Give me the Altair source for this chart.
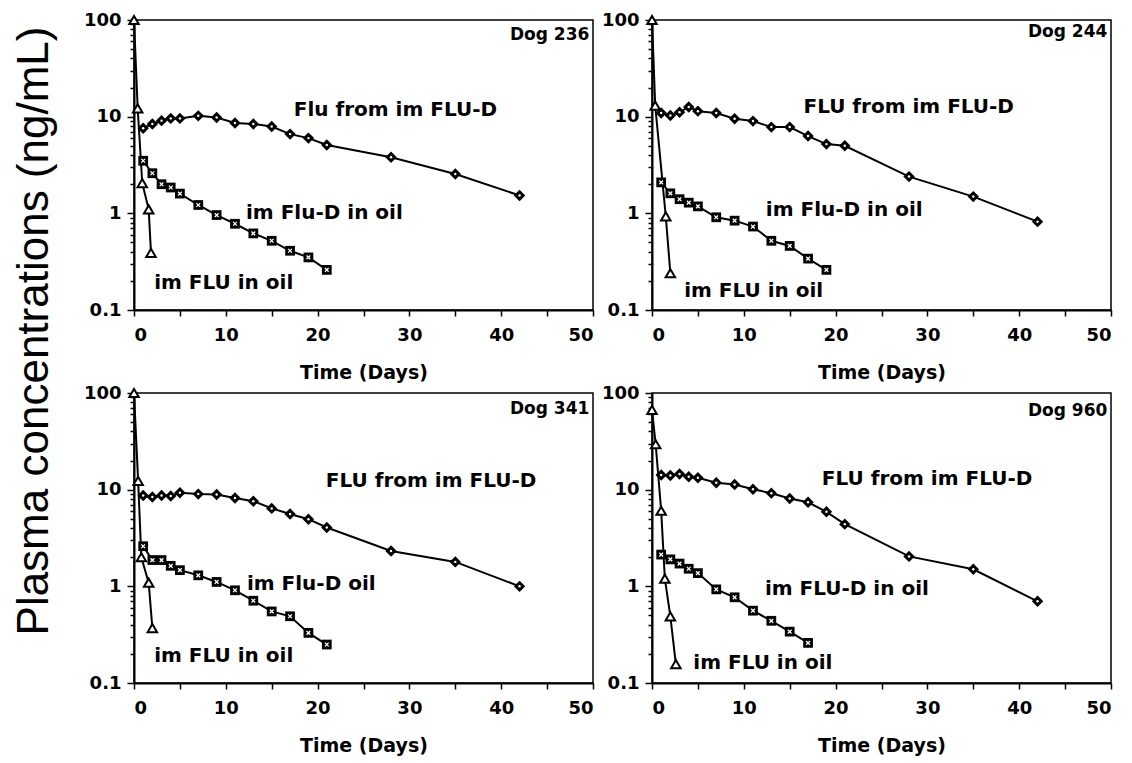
import altair as alt
import pandas as pd

# ---------------- data ----------------
DOGS = ["Dog 236", "Dog 244", "Dog 341", "Dog 960"]

# FLU from im FLU-D (diamonds)
diam_days = {
    "Dog 236": [1, 2, 3, 4, 5, 7, 9, 11, 13, 15, 17, 19, 21, 28, 35, 42],
    "Dog 244": [1, 2, 3, 4, 5, 7, 9, 11, 13, 15, 17, 19, 21, 28, 35, 42],
    "Dog 341": [1, 2, 3, 4, 5, 7, 9, 11, 13, 15, 17, 19, 21, 28, 35, 42],
    "Dog 960": [1, 2, 3, 4, 5, 7, 9, 11, 13, 15, 17, 19, 21, 28, 35, 42],
}
diam_vals = {
    "Dog 236": [7.6, 8.4, 9.1, 9.6, 9.6, 10.2, 9.8, 8.6, 8.4, 7.9, 6.6, 6.0, 5.1, 3.8, 2.55, 1.53],
    "Dog 244": [10.9, 10.3, 11.1, 12.6, 11.4, 10.9, 9.5, 9.0, 7.8, 7.8, 6.3, 5.2, 5.0, 2.4, 1.49, 0.82],
    "Dog 341": [8.7, 8.4, 8.7, 8.6, 9.3, 9.0, 8.9, 8.2, 7.6, 6.4, 5.6, 4.95, 4.06, 2.32, 1.79, 1.0],
    "Dog 960": [14.2, 14.0, 14.5, 13.6, 13.3, 11.8, 11.3, 10.1, 9.2, 8.1, 7.4, 5.9, 4.4, 2.04, 1.5, 0.70],
}
# im FLU-D in oil (squares)
sq_days = {
    "Dog 236": [1, 2, 3, 4, 5, 7, 9, 11, 13, 15, 17, 19, 21],
    "Dog 244": [1, 2, 3, 4, 5, 7, 9, 11, 13, 15, 17, 19],
    "Dog 341": [1, 2, 3, 4, 5, 7, 9, 11, 13, 15, 17, 19, 21],
    "Dog 960": [1, 2, 3, 4, 5, 7, 9, 11, 13, 15, 17],
}
sq_vals = {
    "Dog 236": [3.5, 2.6, 2.0, 1.85, 1.6, 1.22, 0.96, 0.78, 0.62, 0.52, 0.41, 0.35, 0.26],
    "Dog 244": [2.09, 1.61, 1.40, 1.29, 1.18, 0.91, 0.84, 0.73, 0.52, 0.46, 0.34, 0.26],
    "Dog 341": [2.6, 1.87, 1.87, 1.63, 1.47, 1.30, 1.11, 0.91, 0.71, 0.55, 0.49, 0.33, 0.25],
    "Dog 960": [2.13, 1.90, 1.72, 1.52, 1.37, 0.93, 0.77, 0.56, 0.44, 0.34, 0.26],
}
# im FLU in oil (triangles)
tri_days = {
    "Dog 236": [0, 0.4, 0.9, 1.6, 1.85],
    "Dog 244": [0, 0.35, 1.5, 2.0],
    "Dog 341": [0, 0.45, 0.8, 1.6, 2.0],
    "Dog 960": [0, 0.4, 1.0, 1.4, 2.0, 2.6],
}
tri_vals = {
    "Dog 236": [100, 12.2, 2.05, 1.1, 0.39],
    "Dog 244": [100, 13.0, 0.93, 0.24],
    "Dog 341": [100, 12.3, 2.0, 1.09, 0.37],
    "Dog 960": [67, 29.5, 6.05, 1.2, 0.49, 0.157],
}

# annotation texts and their anchor in data units (day, concentration)
series_labels = {
    "Dog 236": ["Flu from im FLU-D", "im Flu-D in oil", "im FLU in oil"],
    "Dog 244": ["FLU from im FLU-D", "im Flu-D in oil", "im FLU in oil"],
    "Dog 341": ["FLU from im FLU-D", "im Flu-D oil", "im FLU in oil"],
    "Dog 960": ["FLU from im FLU-D", "im FLU-D in oil", "im FLU in oil"],
}
label_days = {
    "Dog 236": [17.4, 12.2, 2.2],
    "Dog 244": [16.5, 12.4, 3.5],
    "Dog 341": [20.9, 12.3, 2.2],
    "Dog 960": [18.5, 12.3, 4.5],
}
label_vals = {
    "Dog 236": [11.7, 1.0, 0.19],
    "Dog 244": [12.5, 1.07, 0.158],
    "Dog 341": [12.3, 1.06, 0.19],
    "Dog 960": [12.8, 0.94, 0.161],
}
dog_label_pos = {"Dog 236": (49.6, 70), "Dog 244": (49.6, 75), "Dog 341": (49.6, 68), "Dog 960": (49.6, 65)}

y_ticks = [m * 10.0 ** e for e in (-1, 0, 1) for m in range(1, 10)] + [100.0]
x_ticks = list(range(0, 51, 5))

# ---------------- tables ----------------
rows = []
for dog in DOGS:
    for s, dd, vv in (("diam", diam_days, diam_vals), ("sq", sq_days, sq_vals), ("tri", tri_days, tri_vals)):
        for d, v in zip(dd[dog], vv[dog]):
            rows.append({"dog": dog, "series": s, "day": d, "conc": v})
df = pd.DataFrame(rows)

lab_rows = []
for dog in DOGS:
    for t, d, v in zip(series_labels[dog], label_days[dog], label_vals[dog]):
        lab_rows.append({"dog": dog, "text": t, "day": d, "conc": v})
labs = pd.DataFrame(lab_rows)
dogs_df = pd.DataFrame([{"dog": k, "text": k, "day": p[0], "conc": p[1]} for k, p in dog_label_pos.items()])

FONT = "DejaVu Sans"
is_decade = "abs(log(datum.value)/LN10 - round(log(datum.value)/LN10)) < 0.001"


def panel(dog):
    x = alt.X(
        "day:Q",
        scale=alt.Scale(domain=[0, 50], nice=False),
        axis=alt.Axis(values=x_ticks, labelExpr="datum.value % 10 == 0 ? datum.label : ''",
                      title="Time (Days)", tickSize=6, labelPadding=10, titlePadding=19),
    )
    y = alt.Y(
        "conc:Q",
        scale=alt.Scale(type="log", domain=[0.1, 100], nice=False),
        axis=alt.Axis(values=y_ticks, format="~g",
                      labelExpr=is_decade + " ? format(datum.value, '~g') : ''",
                      tickSize={"condition": {"test": is_decade, "value": 7}, "value": 4},
                      labelPadding=6, title=None),
    )
    d = df[df.dog == dog]
    base = alt.Chart(d).encode(x=x, y=y)
    lines = base.mark_line(color="black", strokeWidth=2).encode(detail="series:N")
    diam = base.transform_filter(alt.datum.series == "diam").mark_point(
        shape="diamond", filled=True, color="black", size=130, opacity=1)
    diam_dot = base.transform_filter(alt.datum.series == "diam").mark_point(
        shape="circle", filled=True, color="white", size=6, opacity=1)
    sq = base.transform_filter(alt.datum.series == "sq").mark_point(
        shape="square", filled=True, color="black", size=95, opacity=1)
    sq_x = base.transform_filter(alt.datum.series == "sq").mark_point(
        shape="M-1,-1L1,1M-1,1L1,-1", filled=False, color="white", size=14, strokeWidth=1.3, opacity=1)
    tri = base.transform_filter(alt.datum.series == "tri").mark_point(
        shape="triangle-up", filled=True, fill="white", stroke="black", strokeWidth=2, size=90, opacity=1)

    txt = alt.Chart(labs[labs.dog == dog]).mark_text(
        align="left", baseline="middle", font=FONT, fontWeight="bold", fontSize=20, color="black"
    ).encode(x="day:Q", y="conc:Q", text="text:N")
    dtxt = alt.Chart(dogs_df[dogs_df.dog == dog]).mark_text(
        align="right", baseline="middle", font=FONT, fontWeight="bold", fontSize=17, color="black"
    ).encode(x="day:Q", y="conc:Q", text="text:N")

    return alt.layer(lines, diam, diam_dot, sq, sq_x, tri, txt, dtxt).properties(width=459, height=290)


top = alt.hconcat(panel("Dog 236"), panel("Dog 244"), spacing=5)
bottom = alt.hconcat(panel("Dog 341"), panel("Dog 960"), spacing=5)

chart = alt.vconcat(top, bottom, spacing=0).properties(
    title=alt.Title("Plasma concentrations (ng/mL)", orient="left", anchor="middle",
                    fontSize=44, font="Liberation Sans", fontWeight="normal", color="black",
                    offset=26, dx=52),
    padding={"left": 4, "top": 2, "right": 5, "bottom": 2},
    background="white",
).configure_view(stroke="black", strokeWidth=1.5).configure_axis(
    grid=False, domainColor="black", domainWidth=2, tickColor="black", tickWidth=1.5,
    labelColor="black", labelFont=FONT, labelFontWeight="bold", labelFontSize=18,
    titleColor="black", titleFont=FONT, titleFontWeight="bold", titleFontSize=19,
)

chart.save("out.html", embed_options={"renderer": "svg", "actions": False})
